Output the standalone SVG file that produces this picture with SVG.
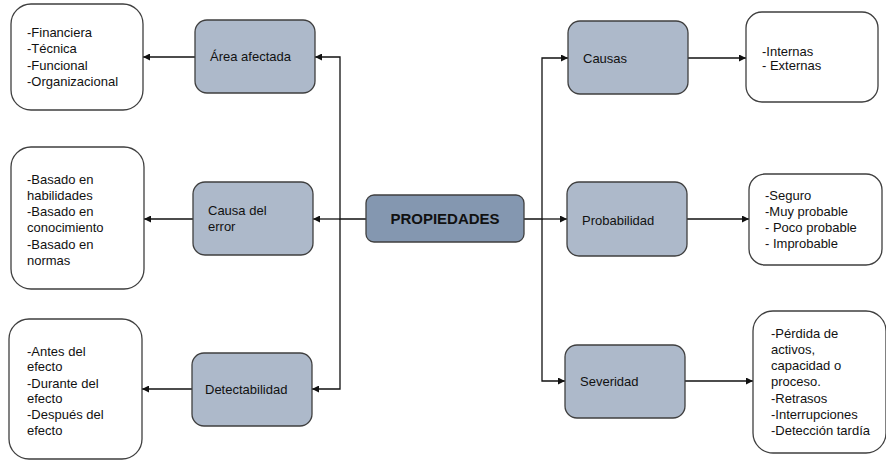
<svg xmlns="http://www.w3.org/2000/svg" width="886" height="461" viewBox="0 0 886 461">
<defs>
<style>
.w{fill:#ffffff;stroke:#3f3f3f;stroke-width:1.3}
.n{fill:#adb9ca;stroke:#3f3f3f;stroke-width:1.3}
.c{fill:#8497b0;stroke:#3f3f3f;stroke-width:1.3}
text{font-family:"Liberation Sans",Arial,sans-serif;font-size:13px;fill:#111111}
.t{font-weight:bold;font-size:15px}
.l{fill:none;stroke:#111111;stroke-width:1.3}
</style>
<marker id="ah" viewBox="0 0 10 10" refX="10" refY="5" markerWidth="7" markerHeight="7" orient="auto" markerUnits="userSpaceOnUse">
<path d="M0,0 L10,5 L0,10 z" fill="#111111"/>
</marker>
</defs>
<rect width="886" height="461" fill="#ffffff"/>
<g id="connectors">
<path class="l" d="M366,219 H340 V57 H315" marker-end="url(#ah)"/>
<path class="l" d="M340,219 H313" marker-end="url(#ah)"/>
<path class="l" d="M340,219 V389 H312" marker-end="url(#ah)"/>
<path class="l" d="M195,57 H143" marker-end="url(#ah)"/>
<path class="l" d="M193,219 H144" marker-end="url(#ah)"/>
<path class="l" d="M192,389 H142" marker-end="url(#ah)"/>
<path class="l" d="M524,219 H542 V58 H568" marker-end="url(#ah)"/>
<path class="l" d="M542,219 H567" marker-end="url(#ah)"/>
<path class="l" d="M542,219 V381 H565" marker-end="url(#ah)"/>
<path class="l" d="M688,58 H746" marker-end="url(#ah)"/>
<path class="l" d="M687,219 H749" marker-end="url(#ah)"/>
<path class="l" d="M685,381 H753" marker-end="url(#ah)"/>
</g>
<g id="propiedades">
<rect class="c" x="366" y="195" width="158" height="47" rx="8"/>
<text class="t" x="445" y="224" text-anchor="middle">PROPIEDADES</text>
</g>
<g id="area">
<rect class="n" x="195" y="20" width="120" height="73" rx="12"/>
<text x="210" y="61">Área afectada</text>
</g>
<g id="area-list">
<rect class="w" x="11" y="4" width="132" height="106" rx="20"/>
<text x="27" y="37">-Financiera</text>
<text x="27" y="53">-Técnica</text>
<text x="27" y="70">-Funcional</text>
<text x="27" y="86">-Organizacional</text>
</g>
<g id="causa-error">
<rect class="n" x="193" y="182" width="120" height="73" rx="12"/>
<text x="208" y="215">Causa del</text>
<text x="208" y="231">error</text>
</g>
<g id="causa-error-list">
<rect class="w" x="11" y="147" width="133" height="142" rx="20"/>
<text x="27" y="184">-Basado en</text>
<text x="27" y="200">habilidades</text>
<text x="27" y="216">-Basado en</text>
<text x="27" y="232">conocimiento</text>
<text x="27" y="249">-Basado en</text>
<text x="27" y="265">normas</text>
</g>
<g id="detectabilidad">
<rect class="n" x="192" y="353" width="120" height="73" rx="12"/>
<text x="205" y="394">Detectabilidad</text>
</g>
<g id="detectabilidad-list">
<rect class="w" x="9" y="319" width="133" height="140" rx="20"/>
<text x="27" y="356">-Antes del</text>
<text x="27" y="371">efecto</text>
<text x="27" y="388">-Durante del</text>
<text x="27" y="403">efecto</text>
<text x="27" y="419">-Después del</text>
<text x="27" y="435">efecto</text>
</g>
<g id="causas">
<rect class="n" x="568" y="21" width="120" height="73" rx="12"/>
<text x="583" y="63">Causas</text>
</g>
<g id="causas-list">
<rect class="w" x="746" y="12" width="132" height="90" rx="16"/>
<text x="762" y="56">-Internas</text>
<text x="762" y="70">- Externas</text>
</g>
<g id="probabilidad">
<rect class="n" x="567" y="182" width="120" height="74" rx="12"/>
<text x="582" y="225">Probabilidad</text>
</g>
<g id="probabilidad-list">
<rect class="w" x="749" y="174" width="133" height="91" rx="16"/>
<text x="765" y="200">-Seguro</text>
<text x="765" y="216">-Muy probable</text>
<text x="765" y="232">- Poco probable</text>
<text x="765" y="248">- Improbable</text>
</g>
<g id="severidad">
<rect class="n" x="565" y="345" width="120" height="73" rx="12"/>
<text x="580" y="386">Severidad</text>
</g>
<g id="severidad-list">
<rect class="w" x="753" y="311" width="133" height="142" rx="20"/>
<text x="771" y="338">-Pérdida de</text>
<text x="771" y="354">activos,</text>
<text x="771" y="370">capacidad o</text>
<text x="771" y="386">proceso.</text>
<text x="771" y="403">-Retrasos</text>
<text x="771" y="419">-Interrupciones</text>
<text x="771" y="435">-Detección tardía</text>
</g>
</svg>
